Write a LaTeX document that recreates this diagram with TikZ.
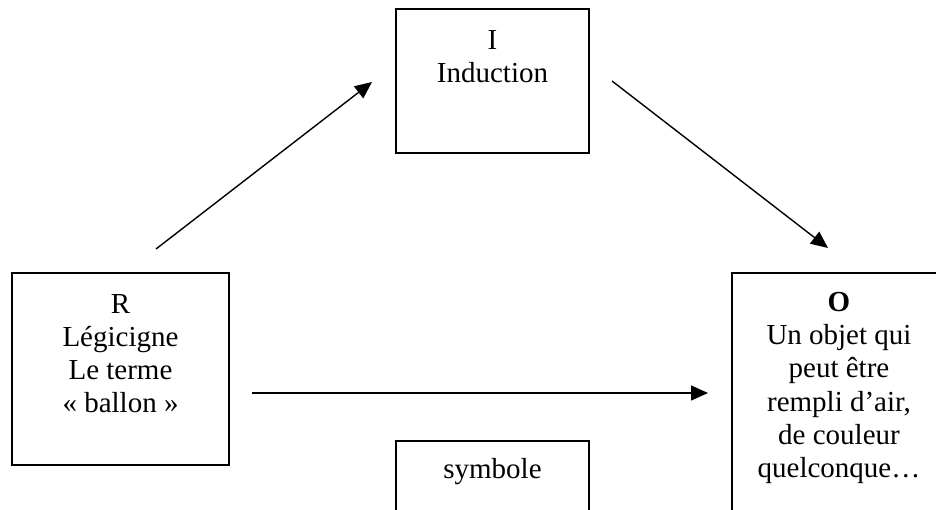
\documentclass[tikz,border=0pt]{standalone}
\usepackage{fontspec}
\setmainfont{Liberation Serif}
\usetikzlibrary{arrows.meta}
\begin{document}
\begin{tikzpicture}[x=1pt,y=-1pt,
  box/.style={draw,line width=1.5pt,inner sep=0pt},
  txt/.style={inner sep=0pt,anchor=north,align=center,font=\fontsize{29}{33.2}\selectfont},
  arr/.style={line width=1.4pt,-{Triangle[length=17pt,width=15pt]}}]
\useasboundingbox (0,0) rectangle (936,510);
\clip (0,0) rectangle (936,510);
\node[box,minimum width=193pt,minimum height=144pt] (I) at (492.5,81) {};
\node[box,minimum width=217pt,minimum height=192pt] (R) at (120.5,369) {};
\node[box,minimum width=214pt,minimum height=287pt] (O) at (839,416.5) {};
\node[box,minimum width=193pt,minimum height=119pt] (S) at (492.5,500.5) {};
\node[txt] (tI) at (492.5,30) {I\\Induction};
\node[txt] (tR) at (120.5,294) {R\\Légicigne\\Le terme\\« ballon »};
\node[txt] (tO) at (839,292) {\textbf{O}\\Un objet qui\\peut être\\rempli d’air,\\de couleur\\quelconque…};
\node[txt] (tS) at (492.5,458) {symbole};
\coordinate (a1s) at (156,249);
\coordinate (a1e) at (372,82);
\coordinate (a2s) at (612,81);
\coordinate (a2e) at (828,248);
\coordinate (a3s) at (252,393);
\coordinate (a3e) at (708,393);
\draw[arr] (a1s) -- (a1e);
\draw[arr] (a2s) -- (a2e);
\draw[arr] (a3s) -- (a3e);
\end{tikzpicture}
\end{document}
